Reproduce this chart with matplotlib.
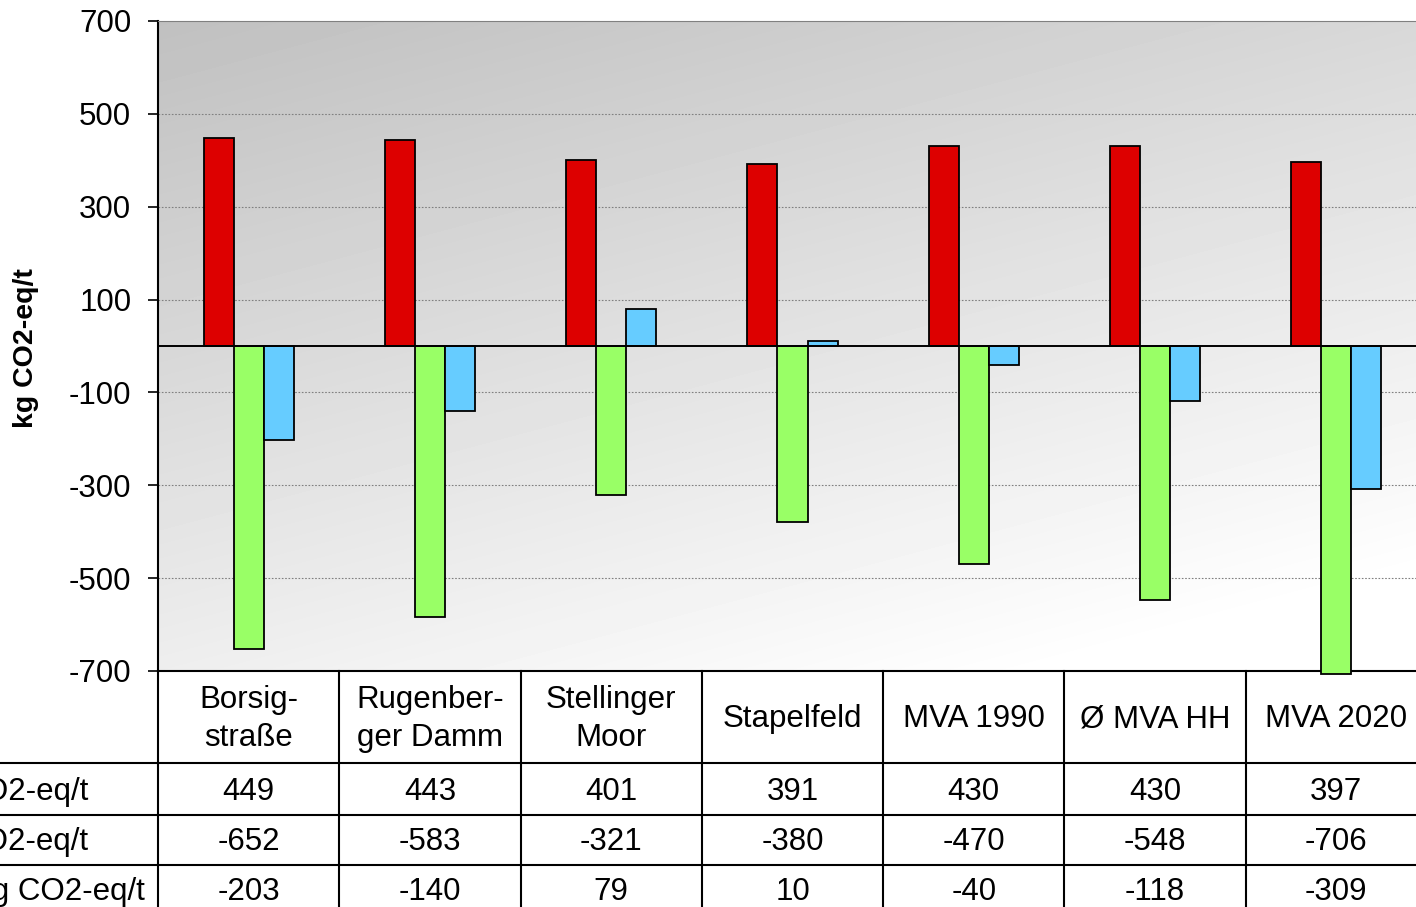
import numpy as np
import matplotlib
matplotlib.use("Agg")
import matplotlib.pyplot as plt
from matplotlib.transforms import blended_transform_factory

plt.rcParams['font.family'] = ['Liberation Sans', 'DejaVu Sans']

# --- data ---------------------------------------------------------------
categories = ["Borsig-\nstraße", "Rugenber-\nger Damm", "Stellinger\nMoor",
              "Stapelfeld", "MVA 1990", "Ø MVA HH", "MVA 2020"]
belastung = [449, 443, 401, 391, 430, 430, 397]
gutschrift = [-652, -583, -321, -380, -470, -548, -706]
saldo = [-203, -140, 79, 10, -40, -118, -309]
row_labels = ["Belastung kg CO2-eq/t", "Gutschrift kg CO2-eq/t",
              "Nettobilanz kg CO2-eq/t"]
yticks = [700, 500, 300, 100, -100, -300, -500, -700]
series = [belastung, gutschrift, saldo]
colors = ["#dd0000", "#99ff66", "#66ccff"]

W, H = 1416, 907
fig = plt.figure(figsize=(W / 100, H / 100), dpi=100)
ax = fig.add_axes([158 / W, 1 - 671 / H, (1427 - 158) / W, (671 - 21) / H])

n = len(categories)
x = np.arange(n)
ax.set_xlim(-0.5, n - 0.5)
ax.set_ylim(-700, 700)

# diagonal grey-to-white background (dark at top left)
gx, gy = np.meshgrid(np.linspace(0, 1, 200), np.linspace(0, 1, 200))
grad = np.clip(192 + 24 * gx + 46 * gy, 0, 255) / 255.0
ax.imshow(grad, cmap="gray", vmin=0, vmax=1, extent=[0, 1, 0, 1],
          origin="upper", transform=ax.transAxes, aspect="auto", zorder=0,
          interpolation="bilinear")

# dotted gridlines
for v in yticks[1:-1]:
    ax.axhline(v, color="#808080", lw=0.8, ls=(0, (1.5, 1.5)), zorder=1)

bw = 30 / 181
for i, (vals, c) in enumerate(zip(series, colors)):
    bars = ax.bar(x + (i - 1) * bw, vals, width=bw, color=c,
                  edgecolor="black", linewidth=1.3, zorder=3)
    for b in bars:
        b.set_clip_on(False)

ax.axhline(0, color="black", lw=1.4, zorder=4)

ax.set_yticks(yticks)
ax.set_yticklabels([str(v) for v in yticks], fontsize=22.5)
ax.tick_params(axis="y", direction="out", length=7.2, width=1.2, pad=12,
               colors="black")
ax.set_xticks([])
for s in ["top", "right"]:
    ax.spines[s].set_color("#808080")
ax.spines["left"].set_linewidth(1.5)
ax.spines["bottom"].set_linewidth(1.5)

fig.text(26 / W, 1 - 348 / H, "kg CO2-eq/t", rotation=90, ha="center",
         va="center", fontsize=20.5, fontweight="bold")

# --- data table below the axis -----------------------------------------
tr = blended_transform_factory(ax.transData, fig.transFigure)
fy = lambda py: 1 - py / H
bounds = np.arange(n + 1) - 0.5
for b in bounds:
    ax.plot([b, b], [fy(671), fy(H + 5)], color="black", lw=1.5,
            transform=tr, clip_on=False)
for py in [763, 815, 865]:
    fig.add_artist(plt.Line2D([0, 1], [fy(py), fy(py)], color="black",
                              lw=1.5, transform=fig.transFigure))

for i, cat in enumerate(categories):
    ax.text(x[i], fy(719), cat, transform=tr, ha="center", va="center",
            fontsize=22.5, linespacing=1.38)

row_centers = [792, 842, 892]
label_right = [88, 88, 145]
for r, vals in enumerate(series):
    for i, v in enumerate(vals):
        ax.text(x[i], fy(row_centers[r]), str(v), transform=tr,
                ha="center", va="center", fontsize=22.5)
    fig.text(label_right[r] / W, fy(row_centers[r]), row_labels[r],
             ha="right", va="center", fontsize=22.5)

fig.savefig("out.png", dpi=100)
